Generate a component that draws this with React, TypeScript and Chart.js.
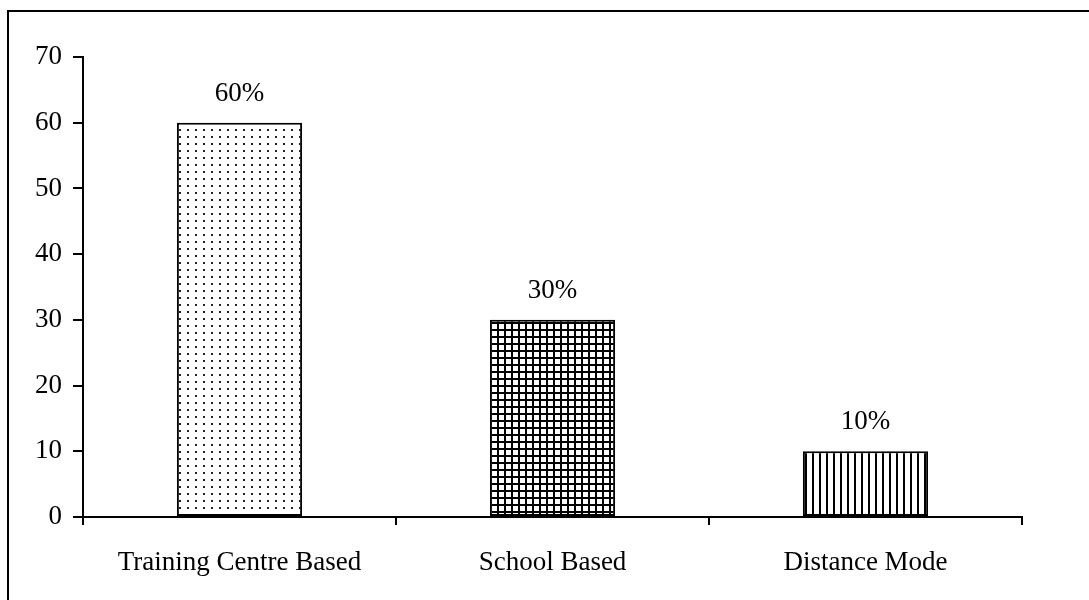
import React, { useEffect, useRef } from "react";
import { Chart, registerables } from "chart.js";

Chart.register(...registerables);

const categories = ["Training Centre Based", "School Based", "Distance Mode"];
const values = [60, 30, 10];
const valueLabels = ["60%", "30%", "10%"];
const yTicks = [0, 10, 20, 30, 40, 50, 60, 70];

const FONT = "'Liberation Serif', 'Times New Roman', serif";
const FONT_SIZE = 27;

function makePattern(kind: string): CanvasPattern | string {
  const c = document.createElement("canvas");
  const ctx = c.getContext("2d");
  if (!ctx) return "#fff";
  if (kind === "dots") {
    c.width = 8;
    c.height = 7;
    ctx.fillStyle = "#fff";
    ctx.fillRect(0, 0, 8, 7);
    ctx.fillStyle = "#222";
    ctx.fillRect(3, 3, 2, 2);
  } else if (kind === "grid") {
    c.width = 7;
    c.height = 7;
    ctx.fillStyle = "#fff";
    ctx.fillRect(0, 0, 7, 7);
    ctx.fillStyle = "#000";
    ctx.fillRect(0, 0, 2, 7);
    ctx.fillRect(0, 0, 7, 2);
  } else {
    c.width = 7;
    c.height = 7;
    ctx.fillStyle = "#fff";
    ctx.fillRect(0, 0, 7, 7);
    ctx.fillStyle = "#000";
    ctx.fillRect(0, 0, 2, 7);
  }
  const p = ctx.createPattern(c, "repeat");
  return p || "#fff";
}

export default function App() {
  const ref = useRef<HTMLCanvasElement | null>(null);

  useEffect(() => {
    if (!ref.current) return;
    const patterns = [makePattern("dots"), makePattern("grid"), makePattern("vlines")];

    const frame = {
      id: "frame",
      afterDraw(chart: any) {
        const ctx = chart.ctx;
        ctx.save();
        ctx.strokeStyle = "#000";
        ctx.lineWidth = 2;
        ctx.beginPath();
        ctx.moveTo(8, 600);
        ctx.lineTo(8, 11);
        ctx.lineTo(1089, 11);
        ctx.stroke();
        ctx.restore();
      },
    };

    const valueLabelPlugin = {
      id: "valueLabels",
      afterDatasetsDraw(chart: any) {
        const ctx = chart.ctx;
        const meta = chart.getDatasetMeta(0);
        ctx.save();
        ctx.fillStyle = "#000";
        ctx.font = `${FONT_SIZE}px ${FONT}`;
        ctx.textAlign = "center";
        ctx.textBaseline = "middle";
        meta.data.forEach((bar: any, i: number) => {
          ctx.fillText(valueLabels[i], bar.x, bar.y - 29);
        });
        ctx.restore();
      },
    };

    const chart = new Chart(ref.current, {
      type: "bar",
      data: {
        labels: categories,
        datasets: [
          {
            data: values,
            backgroundColor: patterns as any,
            borderColor: "#000",
            borderWidth: 2,
            borderSkipped: false,
            barPercentage: 0.4,
            categoryPercentage: 1,
          },
        ],
      },
      options: {
        responsive: false,
        animation: false,
        events: [],
        layout: { padding: { left: 0, top: 57, right: 67, bottom: 0 } },
        plugins: {
          legend: { display: false },
          tooltip: { enabled: false },
          title: { display: false },
        },
        scales: {
          x: {
            offset: true,
            grid: {
              display: true,
              offset: true,
              drawOnChartArea: false,
              drawTicks: true,
              tickLength: 8,
              color: "#000",
              lineWidth: 2,
            },
            border: { display: true, color: "#000", width: 2 },
            ticks: {
              color: "#000",
              font: { family: FONT, size: FONT_SIZE },
              padding: 22,
              maxRotation: 0,
              autoSkip: false,
            },
            afterFit(scale: any) {
              scale.height = 83;
            },
          },
          y: {
            min: 0,
            max: 70,
            afterBuildTicks(scale: any) {
              scale.ticks = yTicks.map((v) => ({ value: v }));
            },
            grid: {
              display: true,
              drawOnChartArea: false,
              drawTicks: true,
              tickLength: 10,
              color: "#000",
              lineWidth: 2,
            },
            border: { display: true, color: "#000", width: 2 },
            ticks: {
              color: "#000",
              font: { family: FONT, size: FONT_SIZE },
              padding: 11,
            },
            afterFit(scale: any) {
              scale.width = 83;
            },
          },
        },
      },
      plugins: [frame, valueLabelPlugin],
    });

    return () => chart.destroy();
  }, []);

  return (
    <div style={{ position: "absolute", left: 0, top: 0, width: 1089, height: 600, background: "#fff" }}>
      <canvas ref={ref} width={1089} height={600} style={{ display: "block" }} />
    </div>
  );
}
